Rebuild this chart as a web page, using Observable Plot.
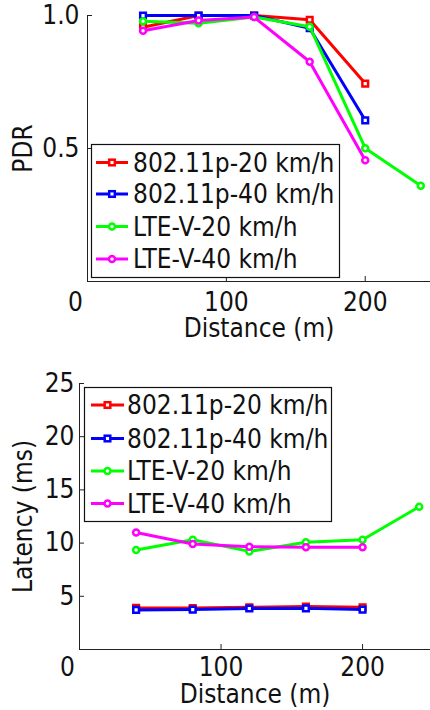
<!DOCTYPE html>
<html><head><meta charset="utf-8">
<script src="https://cdn.jsdelivr.net/npm/d3@7"></script>
<script src="https://cdn.jsdelivr.net/npm/@observablehq/plot@0.6"></script>
<style>
body{margin:0;background:#fff;overflow:hidden}
#wrap{position:relative;width:430px;height:710px;font-family:"DejaVu Sans Condensed","DejaVu Sans",sans-serif}
#wrap svg{display:block}
#wrap svg text{font-family:"DejaVu Sans Condensed","DejaVu Sans",sans-serif}
.legend{position:absolute;left:0;top:0}
</style></head><body><div id="wrap"></div>
<script>
// ---- data ----
const distances = [40, 80, 120, 160, 200];
const distancesLteV20 = [40, 80, 120, 160, 200, 240];
const seriesNames = ["802.11p-20 km/h", "802.11p-40 km/h", "LTE-V-20 km/h", "LTE-V-40 km/h"];
const seriesColors = ["#ff0000", "#0000ff", "#00ff00", "#ff00ff"];
const seriesSymbols = ["square", "square", "circle", "circle"];
const pdr80211p20 = [0.956, 1.0, 1.0, 0.984, 0.744];
const pdr80211p40 = [1.0, 1.0, 1.0, 0.952, 0.606];
const pdrLteV20 = [0.978, 0.971, 0.994, 0.958, 0.501, 0.36];
const pdrLteV40 = [0.943, 0.981, 0.994, 0.826, 0.456];
const lat80211p20 = [3.91, 3.9, 3.97, 4.03, 3.97];
const lat80211p40 = [3.72, 3.75, 3.85, 3.87, 3.75];
const latLteV20 = [9.35, 10.32, 9.22, 10.07, 10.32, 13.41];
const latLteV40 = [11.0, 9.91, 9.66, 9.6, 9.6];
const xTicks = [0, 100, 200];
const pdrTicks = [0.5, 1.0];
const latTicks = [5, 10, 15, 20, 25];

const FONT = "26px";
const FAMILY = '"DejaVu Sans Condensed","DejaVu Sans",sans-serif';
const xsFor = [distances, distances, distancesLteV20, distances];

function seriesRows(valueArrays) {
  return valueArrays.map((vals, i) => vals.map((v, j) => ({series: seriesNames[i], d: xsFor[i][j], v})));
}

function makeChart(cfg) {
  const rows = seriesRows(cfg.values);
  const plotW = cfg.width - cfg.marginLeft - cfg.marginRight;
  const plotH = cfg.height - cfg.marginTop - cfg.marginBottom;
  const marks = [
    Plot.ruleX([0], {stroke: "#222", strokeWidth: 1}),
    Plot.ruleY([0], {stroke: "#222", strokeWidth: 1}),
    Plot.tickY(cfg.yTicks, {stroke: "#222", insetRight: plotW - 5}),
    Plot.tickX(xTicks, {stroke: "#222", insetTop: plotH - 5}),
    Plot.axisY({ticks: cfg.yTicks, tickSize: 0, tickPadding: cfg.yPad, tickFormat: cfg.yFormat,
      label: cfg.ylabel, labelAnchor: "center", labelOffset: cfg.yLabelOffset, labelArrow: "none", fontSize: FONT, fill: "#111"}),
    Plot.axisX({ticks: xTicks.filter(t => t !== 0), tickSize: 0, tickPadding: cfg.xPad, tickFormat: d3.format("d"),
      label: null, fontSize: FONT, fill: "#111"}),
    Plot.axisX({ticks: xTicks.filter(t => t === 0), tickSize: 0, tickPadding: cfg.xPad, tickFormat: d3.format("d"),
      label: null, fontSize: FONT, fill: "#111", dx: -12}),
    Plot.axisX({ticks: [], tickSize: 0,
      label: "Distance (m)", labelAnchor: "center", labelOffset: cfg.xLabelOffset, labelArrow: "none", fontSize: FONT, fill: "#111", dx: 7})
  ];
  rows.forEach((r, i) => {
    marks.push(Plot.line(r, {x: "d", y: "v", stroke: seriesColors[i], strokeWidth: 3}));
    marks.push(Plot.dot(r, {x: "d", y: "v", symbol: seriesSymbols[i], r: seriesSymbols[i] === "square" ? 3.2 : 3,
      stroke: seriesColors[i], strokeWidth: 2.5, fill: "white"}));
  });
  return Plot.plot({
    width: cfg.width, height: cfg.height,
    marginTop: cfg.marginTop, marginBottom: cfg.marginBottom, marginLeft: cfg.marginLeft, marginRight: cfg.marginRight,
    x: {domain: [0, cfg.xMax]},
    y: {domain: cfg.yDomain},
    style: {fontFamily: FAMILY, fontSize: FONT, background: "white", overflow: "visible"},
    marks
  });
}

function makeLegend(wrap, L) {
  const svg = d3.select(wrap).append("svg").attr("class", "legend")
    .attr("width", 430).attr("height", 710).style("pointer-events", "none");
  svg.append("rect").attr("x", L.left + 0.5).attr("y", L.top + 0.5).attr("width", L.w).attr("height", L.h)
    .attr("fill", "white").attr("stroke", "#111").attr("stroke-width", 1.2);
  seriesNames.forEach((name, i) => {
    const y = L.rows[i];
    svg.append("line").attr("x1", L.sx1).attr("x2", L.sx2).attr("y1", y).attr("y2", y)
      .attr("stroke", seriesColors[i]).attr("stroke-width", 3);
    const cx = (L.sx1 + L.sx2) / 2;
    if (seriesSymbols[i] === "square") {
      svg.append("rect").attr("x", cx - 2.8).attr("y", y - 2.8).attr("width", 5.6).attr("height", 5.6)
        .attr("fill", "white").attr("stroke", seriesColors[i]).attr("stroke-width", 2.5);
    } else {
      svg.append("circle").attr("cx", cx).attr("cy", y).attr("r", 3)
        .attr("fill", "white").attr("stroke", seriesColors[i]).attr("stroke-width", 2.5);
    }
    svg.append("text").attr("x", L.tx).attr("y", y).attr("dy", "0.35em")
      .style("font-family", FAMILY).style("font-size", FONT)
      .attr("fill", "#111").text(name);
  });
}

const wrap = document.getElementById("wrap");
wrap.appendChild(makeChart({
  values: [pdr80211p20, pdr80211p40, pdrLteV20, pdrLteV40],
  width: 430, height: 350, marginTop: 15, marginBottom: 69, marginLeft: 87, marginRight: 0, xMax: 247,
  yDomain: [0, 1], yTicks: pdrTicks, yFormat: d3.format(".1f"), yPad: 8, xPad: 11,
  ylabel: "PDR", yLabelOffset: 74, xLabelOffset: 55
}));
wrap.appendChild(makeChart({
  values: [lat80211p20, lat80211p40, latLteV20, latLteV40],
  width: 430, height: 360, marginTop: 33, marginBottom: 61, marginLeft: 79, marginRight: 0, xMax: 248,
  yDomain: [0, 25], yTicks: latTicks, yFormat: d3.format("d"), yPad: 5, xPad: 8,
  ylabel: "Latency (ms)", yLabelOffset: 66, xLabelOffset: 53
}));
makeLegend(wrap, {left: 91, top: 144, w: 248, h: 133, rows: [162.5, 194, 226.5, 259], sx1: 96, sx2: 128, tx: 133});
makeLegend(wrap, {left: 84, top: 387, w: 247, h: 134, rows: [405, 438.5, 471, 503.5], sx1: 91, sx2: 124, tx: 127});
</script></body></html>
